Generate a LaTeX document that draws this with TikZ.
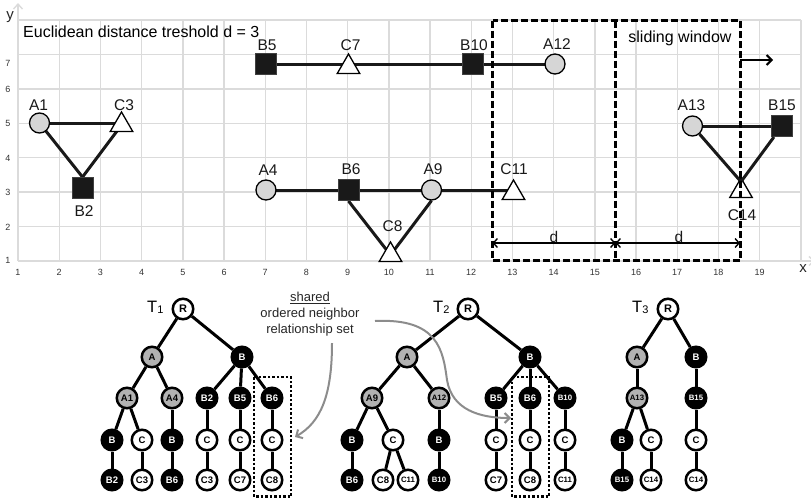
\documentclass[tikz,border=0pt]{standalone}
\usepackage{fontspec}
\setmainfont{Liberation Sans}
\usetikzlibrary{arrows.meta,shapes.geometric,calc}
\pgfdeclarelayer{gridlayer}
\pgfdeclarelayer{linelayer}
\pgfsetlayers{gridlayer,linelayer,main}
\begin{document}
\begin{tikzpicture}[x=1pt,y=-1pt,
  gridline/.style={draw=black!14, line width=1.4pt},
  ptcirc/.style={circle, draw=black, line width=1.3pt, fill=black!16, minimum size=20pt, inner sep=0pt},
  ptsq/.style={rectangle, draw=black!75, line width=1pt, fill=black!90, minimum size=21pt, inner sep=0pt},
  pttri/.style={regular polygon, regular polygon sides=3, draw=black, line width=1.3pt, fill=white, minimum size=26pt, inner sep=0pt},
  ptlab/.style={font=\fontsize{15.5}{16}\selectfont, text=black!90, inner sep=0pt},
  conn/.style={line width=3pt, black!90},
  win/.style={draw=black, line width=3pt, dash pattern=on 7pt off 3pt},
  ticklab/.style={font=\fontsize{9}{9}\selectfont, text=black!80, inner sep=0pt},
  tn/.style={circle, draw=black, line width=2.5pt, minimum size=20.5pt, inner sep=0pt, font=\fontsize{9.5}{9.5}\selectfont\bfseries},
  tA/.style={tn, fill=black!30},
  tB/.style={tn, fill=black, text=white},
  tC/.style={tn, fill=white},
  tsmall/.style={font=\fontsize{7.8}{8}\selectfont\bfseries},
  tedge/.style={line width=3pt},
  dotbox/.style={draw=black, line width=2.5pt, dash pattern=on 2.5pt off 2pt},
  garrow/.style={draw=black!45, line width=2pt, -{Straight Barb[length=5pt,width=10pt]}},
  dimarrow/.style={line width=1.4pt, {Straight Barb[length=4pt,width=9pt]}-{Straight Barb[length=4pt,width=9pt]}},
]
\useasboundingbox (0,0) rectangle (811,498);

% ---------- grid and axes ----------
\begin{pgfonlayer}{gridlayer}
\foreach \i in {0,...,19} \draw[gridline] ({18+41.2*\i},20) -- ({18+41.2*\i},261);
\foreach \j in {0,...,7} \draw[gridline] (18,{261-34.43*\j}) -- (801,{261-34.43*\j});
\draw[black!14, line width=1.4pt, -{Straight Barb[length=5pt,width=9pt]}] (18,261) -- (18,3);
\draw[black!14, line width=1.4pt, -{Straight Barb[length=5pt,width=9pt]}] (18,261) -- (815,261);
\end{pgfonlayer}

\foreach \i in {1,...,19} \node[ticklab] at ({18+41.2*(\i-1)},272) {\i};
\foreach \j/\yy in {1/260,2/227,3/192,4/158,5/123,6/89,7/63} \node[ticklab] at (8,\yy) {\j};
\node[font=\fontsize{15}{15}\selectfont, text=black!85] (ylab) at (10,17) {y};
\node[font=\fontsize{15}{15}\selectfont, text=black!85] (xlab) at (803,269) {x};

\node[anchor=west, inner sep=0pt, font=\fontsize{16}{16}\selectfont] (title) at (23,32) {Euclidean distance treshold d = 3};

% ---------- points ----------
\node[ptcirc] (A1) at (39.5,123) {};
\node[ptsq] (B2) at (82.5,188) {};
\node[pttri] (C3) at (121.5,125) {};
\node[ptcirc] (A4) at (266,190) {};
\node[ptsq] (B5) at (266,64) {};
\node[ptsq] (B6) at (348.5,190) {};
\node[pttri] (C7) at (348.5,67) {};
\node[pttri] (C8) at (390.5,255) {};
\node[ptcirc] (A9) at (431.5,190) {};
\node[ptsq] (B10) at (472.5,64) {};
\node[pttri] (C11) at (513.5,193) {};
\node[ptcirc] (A12) at (555,64) {};
\node[ptcirc] (A13) at (692.5,126) {};
\node[pttri] (C14) at (741,191) {};
\node[ptsq] (B15) at (782,126) {};

\begin{pgfonlayer}{linelayer}
\draw[conn] (A1.center) -- (A1 -| C3);
\draw[conn] (A1.center) -- (B2.north);
\draw[conn] (B2.north) -- (C3.center);
\draw[conn] (B5.center) -- (B5 -| C7);
\draw[conn] (B5 -| C7) -- (B10.center);
\draw[conn] (B10.center) -- (A12.center);
\draw[conn] (A4.center) -- (B6.center);
\draw[conn] (B6.center) -- (A9.center);
\draw[conn] (A9.center) -- (A9 -| C11);
\draw[conn] (B6.south) -- (C8.center);
\draw[conn] (A9.south) -- (C8.center);
\draw[conn] (A13.center) -- (B15.center);
\end{pgfonlayer}
\draw[conn] (A13) -- ($(C14.corner 1)!0.35!(C14.center)$);
\draw[conn] (B15) -- ($(C14.corner 1)!0.35!(C14.center)$);

\node[ptlab] at (38.5,105) {A1};
\node[ptlab] at (84,211) {B2};
\node[ptlab] at (124,105) {C3};
\node[ptlab] at (268,170) {A4};
\node[ptlab] at (267,45.5) {B5};
\node[ptlab] at (351,169.5) {B6};
\node[ptlab] at (350.5,45.5) {C7};
\node[ptlab] at (392.5,226.5) {C8};
\node[ptlab] at (433,169.5) {A9};
\node[ptlab] at (474,45.5) {B10};
\node[ptlab] at (514,169.5) {C11};
\node[ptlab] at (557,44.5) {A12};
\node[ptlab] at (691.5,105) {A13};
\node[ptlab] at (742,215) {C14};
\node[ptlab] at (782,105) {B15};

% ---------- sliding windows ----------
\draw[win] (492.5,20.5) rectangle (740,260.5);
\draw[win] (615.5,20.5) -- (615.5,260.5);
\node[anchor=base, inner sep=0pt, font=\fontsize{16}{16}\selectfont] (swlab) at (680,42) {sliding window};
\draw[line width=2pt, -{Straight Barb[length=5pt,width=10pt]}] (740,60) -- (773,60);
\draw[dimarrow] (492.5,243) -- (615.5,243);
\draw[dimarrow] (615.5,243) -- (740,243);
\node[ptlab] at (554,236.5) {d};
\node[ptlab] at (679,236.5) {d};

% ---------- tree T1 ----------
\node[anchor=base west, inner sep=0pt, font=\fontsize{16.5}{16.5}\selectfont] (T1lab) at (147,312) {T\raisebox{-1.5pt}{\fontsize{11}{11}\selectfont 1}};
\node[tC] (t1R) at (183,309) {\fontsize{11}{11}\selectfont R};
\node[tA] (t1A) at (152,357) {A};
\node[tB] (t1B) at (242,357) {B};
\node[tA] (t1a1) at (127,398) {A1};
\node[tA] (t1a4) at (172,398) {A4};
\node[tB] (t1b2) at (207,398) {B2};
\node[tB] (t1b5) at (240,398) {B5};
\node[tB] (t1b6) at (272,398) {B6};
\node[tB] (t1x1) at (112,440) {B};
\node[tC] (t1x2) at (142,440) {C};
\node[tB] (t1x3) at (172,440) {B};
\node[tC] (t1x4) at (207,440) {C};
\node[tC] (t1x5) at (240,440) {C};
\node[tC] (t1x6) at (272,440) {C};
\node[tB] (t1y1) at (112,480) {B2};
\node[tC] (t1y2) at (142,480) {C3};
\node[tB] (t1y3) at (172,480) {B6};
\node[tC] (t1y4) at (207,480) {C3};
\node[tC] (t1y5) at (240,480) {C7};
\node[tC] (t1y6) at (272,480) {C8};
\foreach \a/\b in {t1R/t1A, t1R/t1B, t1A/t1a1, t1A/t1a4, t1B/t1b2, t1B/t1b5, t1B/t1b6,
  t1a1/t1x1, t1a1/t1x2, t1a4/t1x3, t1b2/t1x4, t1b5/t1x5, t1b6/t1x6,
  t1x1/t1y1, t1x2/t1y2, t1x3/t1y3, t1x4/t1y4, t1x5/t1y5, t1x6/t1y6}
  \draw[tedge] (\a) -- (\b);
\draw[dotbox] (254,377) rectangle (291,496.5);

% ---------- tree T2 ----------
\node[anchor=base west, inner sep=0pt, font=\fontsize{16.5}{16.5}\selectfont] (T2lab) at (433,312) {T\raisebox{-1.5pt}{\fontsize{11}{11}\selectfont 2}};
\node[tC] (t2R) at (468,309) {\fontsize{11}{11}\selectfont R};
\node[tA] (t2A) at (407,357) {A};
\node[tB] (t2B) at (530,357) {B};
\node[tA] (t2a9) at (372,398) {A9};
\node[tA,tsmall] (t2a12) at (439,398) {A12};
\node[tB] (t2b5) at (496,398) {B5};
\node[tB] (t2b6) at (530,398) {B6};
\node[tB,tsmall] (t2b10) at (565,398) {B10};
\node[tB] (t2x1) at (352,440) {B};
\node[tC] (t2x2) at (393,440) {C};
\node[tB] (t2x3) at (439,440) {B};
\node[tC] (t2x4) at (496,440) {C};
\node[tC] (t2x5) at (530,440) {C};
\node[tC] (t2x6) at (565,440) {C};
\node[tB] (t2y1) at (352,480) {B6};
\node[tC] (t2y2) at (383,480) {C8};
\node[tC,tsmall] (t2y3) at (408,480) {C11};
\node[tB,tsmall] (t2y4) at (439,480) {B10};
\node[tC] (t2y5) at (496,480) {C7};
\node[tC] (t2y6) at (530,480) {C8};
\node[tC,tsmall] (t2y7) at (565,480) {C11};
\foreach \a/\b in {t2R/t2A, t2R/t2B, t2A/t2a9, t2A/t2a12, t2B/t2b5, t2B/t2b6, t2B/t2b10,
  t2a9/t2x1, t2a9/t2x2, t2a12/t2x3, t2b5/t2x4, t2b6/t2x5, t2b10/t2x6,
  t2x1/t2y1, t2x2/t2y2, t2x2/t2y3, t2x3/t2y4, t2x4/t2y5, t2x5/t2y6, t2x6/t2y7}
  \draw[tedge] (\a) -- (\b);
\draw[dotbox] (512,377) rectangle (549,496.5);

% ---------- tree T3 ----------
\node[anchor=base west, inner sep=0pt, font=\fontsize{16.5}{16.5}\selectfont] (T3lab) at (632,312) {T\raisebox{-1.5pt}{\fontsize{11}{11}\selectfont 3}};
\node[tC] (t3R) at (668,309) {\fontsize{11}{11}\selectfont R};
\node[tA] (t3A) at (637,357) {A};
\node[tB] (t3B) at (696,357) {B};
\node[tA,tsmall] (t3a13) at (637,398) {A13};
\node[tB,tsmall] (t3b15) at (696,398) {B15};
\node[tB] (t3x1) at (622,440) {B};
\node[tC] (t3x2) at (651,440) {C};
\node[tC] (t3x3) at (696,440) {C};
\node[tB,tsmall] (t3y1) at (622,480) {B15};
\node[tC,tsmall] (t3y2) at (651,480) {C14};
\node[tC,tsmall] (t3y3) at (696,480) {C14};
\foreach \a/\b in {t3R/t3A, t3R/t3B, t3A/t3a13, t3B/t3b15,
  t3a13/t3x1, t3a13/t3x2, t3b15/t3x3, t3x1/t3y1, t3x2/t3y2, t3x3/t3y3}
  \draw[tedge] (\a) -- (\b);

% ---------- shared label and arrows ----------
\node[align=center, inner sep=0pt, text=black!85, font=\fontsize{13}{16}\selectfont] (shared) at (310,314) {\underline{shared}\\ordered neighbor\\relationship set};
\coordinate (s1) at (332,343);
\coordinate (s2) at (375,321);
\coordinate (e1) at (295,437);
\coordinate (e2) at (511,418);
\draw[garrow] (s1) .. controls (332,395) and (321,422) .. (e1);
\draw[garrow] (s2) .. controls (438,318) and (443,350) .. (447,380) .. controls (452,410) and (480,418) .. (e2);
\end{tikzpicture}
\end{document}
